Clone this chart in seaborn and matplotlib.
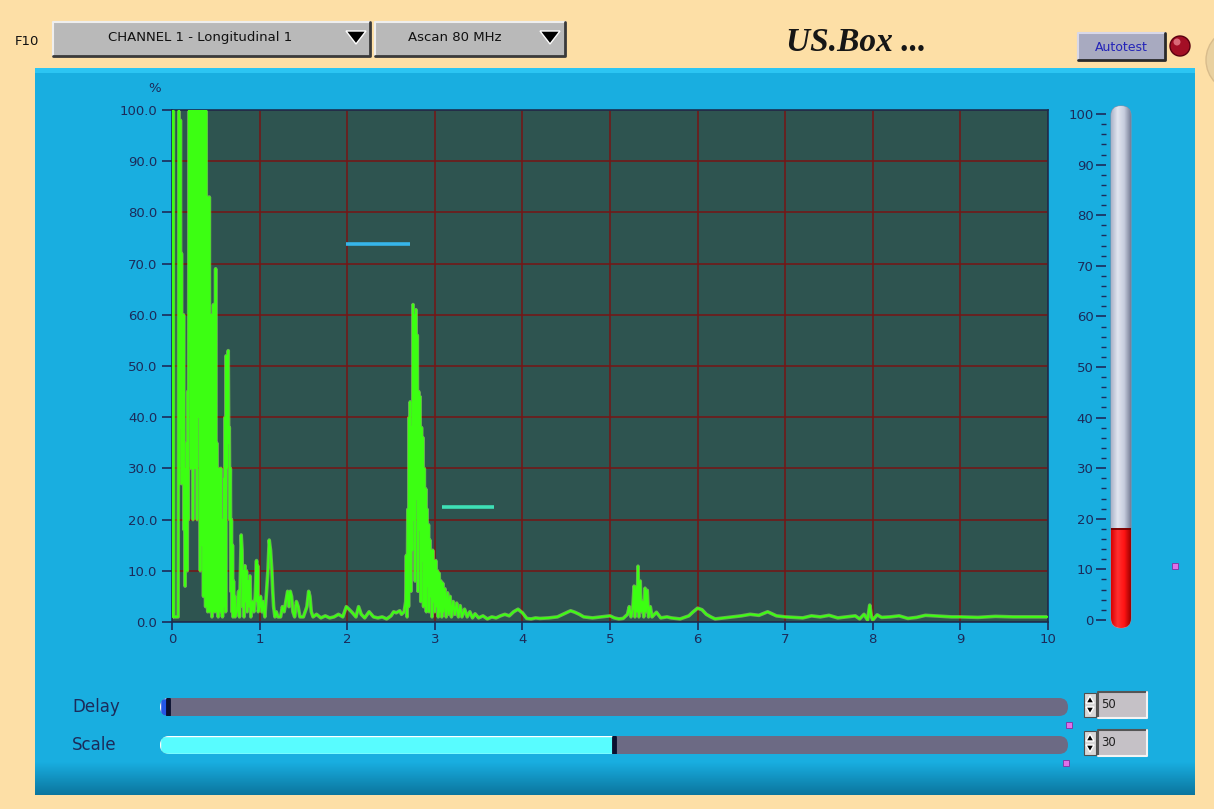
import numpy as np
import matplotlib
matplotlib.use("Agg")
import matplotlib.pyplot as plt
from matplotlib.patches import FancyBboxPatch, Rectangle, Circle, Polygon
from matplotlib.colors import LinearSegmentedColormap
import seaborn as sns

sns.set_theme(style="ticks")
plt.rcParams['font.family'] = ['DejaVu Sans']

# ---- A-scan trace (time in us, amplitude in %) ----
time_us = [
    0.000, 0.010, 0.015, 0.020, 0.070, 0.078, 0.084, 0.090, 0.096, 0.102,
    0.108, 0.114, 0.120, 0.126, 0.132, 0.138, 0.144, 0.150, 0.156, 0.162,
    0.168, 0.174, 0.180, 0.186, 0.192, 0.198, 0.204, 0.210, 0.216, 0.222,
    0.228, 0.234, 0.240, 0.246, 0.252, 0.258, 0.264, 0.270, 0.276, 0.282,
    0.288, 0.294, 0.300, 0.306, 0.312, 0.318, 0.324, 0.330, 0.336, 0.342,
    0.348, 0.354, 0.360, 0.366, 0.372, 0.378, 0.384, 0.390, 0.396, 0.402,
    0.408, 0.414, 0.420, 0.426, 0.432, 0.438, 0.444, 0.450, 0.456, 0.462,
    0.468, 0.474, 0.480, 0.486, 0.492, 0.498, 0.504, 0.510, 0.516, 0.522,
    0.528, 0.534, 0.540, 0.546, 0.552, 0.558, 0.564, 0.570, 0.576, 0.582,
    0.588, 0.594, 0.600, 0.606, 0.612, 0.618, 0.624, 0.630, 0.636, 0.642,
    0.648, 0.654, 0.660, 0.666, 0.672, 0.678, 0.684, 0.690, 0.696, 0.702,
    0.708, 0.714, 0.720, 0.740, 0.760, 0.770, 0.790, 0.800, 0.806, 0.815,
    0.822, 0.832, 0.840, 0.850, 0.858, 0.870, 0.880, 0.890, 0.900, 0.920,
    0.935, 0.950, 0.965, 0.972, 0.978, 0.985, 1.000, 1.010, 1.025, 1.040,
    1.060, 1.080, 1.095, 1.110, 1.125, 1.140, 1.150, 1.160, 1.175, 1.190,
    1.210, 1.240, 1.260, 1.280, 1.300, 1.320, 1.335, 1.350, 1.365, 1.380,
    1.400, 1.420, 1.440, 1.460, 1.500, 1.540, 1.560, 1.575, 1.590, 1.610,
    1.650, 1.700, 1.750, 1.800, 1.850, 1.900, 1.950, 1.990, 2.020, 2.060,
    2.100, 2.130, 2.160, 2.200, 2.250, 2.300, 2.350, 2.400, 2.450, 2.500,
    2.530, 2.560, 2.600, 2.620, 2.650, 2.668, 2.676, 2.684, 2.692, 2.700,
    2.708, 2.714, 2.720, 2.728, 2.736, 2.744, 2.752, 2.760, 2.768, 2.776,
    2.784, 2.792, 2.800, 2.808, 2.816, 2.824, 2.832, 2.840, 2.848, 2.856,
    2.864, 2.872, 2.880, 2.888, 2.896, 2.904, 2.912, 2.920, 2.928, 2.936,
    2.944, 2.952, 2.960, 2.968, 2.976, 2.984, 2.992, 3.000, 3.010, 3.020,
    3.030, 3.040, 3.050, 3.060, 3.070, 3.080, 3.090, 3.100, 3.115, 3.130,
    3.145, 3.160, 3.175, 3.190, 3.210, 3.230, 3.250, 3.270, 3.290, 3.310,
    3.340, 3.370, 3.400, 3.430, 3.460, 3.500, 3.550, 3.600, 3.650, 3.700,
    3.750, 3.800, 3.850, 3.900, 3.950, 4.000, 4.050, 4.100, 4.150, 4.200,
    4.300, 4.400, 4.500, 4.550, 4.600, 4.650, 4.700, 4.800, 4.900, 5.000,
    5.050, 5.100, 5.150, 5.200, 5.220, 5.240, 5.260, 5.275, 5.285, 5.300,
    5.310, 5.320, 5.330, 5.345, 5.355, 5.370, 5.385, 5.400, 5.410, 5.425,
    5.440, 5.460, 5.480, 5.530, 5.580, 5.650, 5.700, 5.800, 5.900, 5.950,
    6.000, 6.050, 6.100, 6.150, 6.200, 6.300, 6.400, 6.500, 6.600, 6.700,
    6.800, 6.850, 6.900, 7.000, 7.100, 7.200, 7.300, 7.400, 7.500, 7.600,
    7.700, 7.800, 7.850, 7.900, 7.940, 7.965, 7.985, 8.000, 8.050, 8.100,
    8.200, 8.300, 8.400, 8.500, 8.600, 8.700, 8.800, 8.900, 9.000, 9.200,
    9.400, 9.600, 9.800, 10.000,
]
amplitude = [
    1, 1, 100, 1, 1, 100, 27, 65, 98, 38,
    72, 27, 40, 28, 60, 18, 30, 7, 25, 15,
    35, 10, 45, 20, 71, 100, 55, 100, 30, 100,
    71, 100, 20, 100, 55, 100, 30, 100, 48, 100,
    20, 100, 52, 100, 40, 100, 10, 100, 45, 100,
    15, 100, 5, 100, 40, 100, 3, 100, 10, 83,
    2, 66, 20, 83, 2, 42, 5, 60, 1, 30,
    18, 62, 2, 40, 10, 69, 2, 35, 16, 25,
    1, 30, 12, 28, 2, 30, 4, 20, 1, 12,
    3, 28, 8, 40, 2, 52, 30, 51, 48, 53,
    35, 38, 20, 30, 6, 20, 2, 15, 1, 8,
    2, 5, 1, 2, 6, 1, 17, 14, 3, 10,
    1, 11, 4, 10, 2, 8, 3, 9, 1, 4,
    2, 5, 12, 4, 11, 2, 3, 5, 2, 4,
    1, 6, 10, 16, 14, 10, 6, 3, 1, 2,
    1, 1, 3, 2, 4, 6, 3, 6, 5, 2,
    1, 4, 3, 1, 1, 3, 6, 5, 2, 1,
    1.5, 0.8, 1.2, 0.8, 1, 1.5, 1, 3, 2.5, 1.8,
    1, 3, 1.5, 0.8, 2, 1, 0.8, 1, 0.6, 1.2,
    2, 1.8, 2.2, 1.5, 2, 4, 13, 1, 22, 3,
    40, 12, 43, 6, 38, 14, 62, 20, 60, 8,
    61, 24, 56, 6, 45, 18, 44, 4, 38, 12,
    36, 3, 30, 10, 26, 2, 22, 7, 19, 2,
    16, 5, 14, 1, 14, 4, 12, 2, 12, 3,
    10, 1, 9.5, 2, 8, 1, 7.6, 2, 6.5, 1,
    5.7, 1.5, 5, 1, 4, 1.5, 3.7, 1, 3.2, 1,
    2.5, 1, 2, 0.8, 1.6, 0.8, 1.2, 0.6, 1, 0.8,
    1.2, 1.5, 1.2, 2, 2.5, 1.8, 0.7, 0.6, 0.8, 0.7,
    0.8, 1, 1.8, 2.2, 1.9, 1.5, 1, 0.8, 1, 1.2,
    0.8, 0.6, 0.7, 1.5, 3, 1, 2.6, 7, 1, 6.9,
    2, 10.9, 1, 8, 2, 4, 1, 6.6, 2, 6.2,
    1, 3, 1, 1.9, 0.8, 1, 0.8, 0.6, 1.2, 2,
    2.7, 2.4, 1.5, 1, 0.6, 0.8, 1, 1.2, 1.5, 1.3,
    2, 1.6, 1.2, 1, 0.9, 0.8, 1.2, 1, 1.3, 0.8,
    1, 1.2, 0.6, 1.5, 0.4, 3.3, 1, 0.4, 1.4, 0.9,
    1, 1.2, 0.7, 0.9, 1.3, 1.2, 1.1, 1, 1, 0.9,
    1.1, 1, 1, 1,
]
assert len(time_us) == len(amplitude)

# gates
gate_start = [1.99, 3.08]
gate_end = [2.72, 3.68]
gate_level = [73.8, 22.5]
gate_colors = ['#36b6ea', '#3ee0b6']

x_ticks = list(range(0, 11))
y_ticks = [0, 10, 20, 30, 40, 50, 60, 70, 80, 90, 100]

# bar meter on the right
meter_ticks = [0, 10, 20, 30, 40, 50, 60, 70, 80, 90, 100]
meter_level = 18

# sliders and numeric controls
slider_names = ['Delay', 'Scale']
slider_pos = [0.0, 0.5]
slider_fill_colors = ['#2456e6', '#58fcff']
slider_values = ['50', '30']

channel_label = 'CHANNEL 1 - Longitudinal 1'
mode_label = 'Ascan 80 MHz'
title_text = 'US.Box ...'

W, H = 1214, 809
NAVY = '#1c2b5a'

fig = plt.figure(figsize=(W / 100, H / 100), dpi=100)
fig.patch.set_facecolor('#fddfa6')

# full-figure overlay in pixel coords for the panel decorations
ui = fig.add_axes([0, 0, 1, 1])
ui.axis('off')


def box(x0, y0, x1, y1):
    return fig.add_axes([x0 / W, 1 - y1 / H, (x1 - x0) / W, (y1 - y0) / H])


def gradient(axis, extent, colors, clip=None, vertical=False, z=1):
    cmap = LinearSegmentedColormap.from_list('g', colors)
    arr = np.linspace(0, 1, 256)
    arr = arr.reshape(-1, 1) if vertical else arr.reshape(1, -1)
    im = axis.imshow(arr, cmap=cmap, extent=extent, aspect='auto', origin='upper',
                     zorder=z, interpolation='bilinear')
    if clip is not None:
        im.set_clip_path(clip)
    return im


def raised(x0, y0, x1, y1, face, light='#eeeeee', dark='#3a3a3a', z=3):
    ui.add_patch(Rectangle((x0, y0), x1 - x0, y1 - y0, fc=face, ec='none', zorder=z))
    ui.plot([x0, x0, x1], [y1, y0, y0], color=light, lw=1.5, zorder=z + 0.1)
    ui.plot([x0, x1, x1], [y1, y1, y0], color=dark, lw=2, zorder=z + 0.1)


# blue panel
ui.add_patch(Rectangle((35, 68), 1160, 727, fc='#19aee0', ec='none', zorder=1))
ui.add_patch(Rectangle((35, 68), 1160, 5, fc='#2cc5f3', ec='none', zorder=1.6))
gradient(ui, (35, 1195, 795, 762), ['#19aee0', '#0b759e'], vertical=True, z=1.5)

# knob peeking at the right edge
ui.add_patch(Circle((1238, 60), 32, fc='#e9d1a0', ec='#d8bc8c', lw=1, zorder=0.5))

# header
ui.text(15, 41, 'F10', fontsize=9.5, va='center', color='#111111')
raised(53, 22, 370, 56, '#b9b9b9')
ui.text(200, 37, channel_label, ha='center', va='center', fontsize=9.5, color='#111111', zorder=4)
ui.add_patch(Polygon([(346, 31), (366, 31), (356, 44)], fc='black', zorder=4))
raised(375, 22, 565, 56, '#b9b9b9')
ui.text(455, 37, mode_label, ha='center', va='center', fontsize=9.5, color='#111111', zorder=4)
ui.add_patch(Polygon([(540, 31), (560, 31), (550, 44)], fc='black', zorder=4))

ui.text(856, 42, title_text, family=['Liberation Serif', 'DejaVu Serif'], weight='bold',
        style='italic', fontsize=24, ha='center', va='center', color='#161616')

raised(1078, 33, 1165, 60, '#a8aac0', light='#d8d8e8', dark='#2a2a2a')
ui.text(1121, 47, 'Autotest', ha='center', va='center', fontsize=9, color='#2424b8', zorder=4)
ui.add_patch(Circle((1180, 46), 10, fc='#a30f25', ec='#5a0010', lw=1, zorder=4))
ui.add_patch(Circle((1177, 42), 3.5, fc='#e8808c', ec='none', alpha=0.8, zorder=4.1))

ui.text(155, 88, '%', fontsize=9.5, color=NAVY, ha='center', va='center')

# ---- A-scan graph ----
ax = box(172, 110, 1048, 622)
ax.set_facecolor('#2e5450')
# pale halo under a bright core, like the screen rendering
sns.lineplot(x=time_us, y=amplitude, ax=ax, color='#9ef25a', lw=2.6, alpha=0.55,
             estimator=None, sort=False, zorder=2.5)
sns.lineplot(x=time_us, y=amplitude, ax=ax, color='#3cff12', lw=1.4,
             estimator=None, sort=False, zorder=3)
ax.hlines(gate_level, gate_start, gate_end, colors=gate_colors, lw=2.6, zorder=4)
ax.set_xlim(0, 10)
ax.set_ylim(0, 100)
ax.set_xticks(x_ticks)
ax.set_xticklabels([str(v) for v in x_ticks])
ax.set_yticks(y_ticks)
ax.set_yticklabels([f'{v:.1f}' for v in y_ticks])
ax.grid(True, color='#761515', lw=1.1)
ax.set_axisbelow(True)
ax.tick_params(colors=NAVY, labelcolor=NAVY, labelsize=9.5, length=7, width=1.2)
ax.tick_params(axis='x', length=6, pad=2)
for s in ax.spines.values():
    s.set_color('#183050')
    s.set_linewidth(1.2)
ax.set_xlabel('')
ax.set_ylabel('')

# ---- level meter ----
tube = FancyBboxPatch((1111, 106), 20, 522, boxstyle='round,pad=0,rounding_size=10',
                      fc='#c8cfe0', ec='#8890a8', lw=0.8, zorder=2)
ui.add_patch(tube)
gradient(ui, (1111, 1131, 628, 106), ['#aab2c8', '#e2e6f0', '#c6ccdd', '#767d96'], clip=tube, z=2.1)

th = box(1106, 106, 1131, 628)
th.patch.set_alpha(0)
gradient(th, (5, 25, -1.6, meter_level), ['#d80000', '#ff3030', '#ff1414', '#9a0000'], clip=tube, z=2)
top_line = th.hlines(meter_level, 5, 25, color='#6a0000', lw=1.2, zorder=3)
top_line.set_clip_path(tube)
th.set_xlim(0, 25)
th.set_ylim(-1.6, 101.6)
for s in th.spines.values():
    s.set_visible(False)
th.set_xticks([])
th.set_yticks(meter_ticks)
th.set_yticklabels([str(v) for v in meter_ticks])
th.set_yticks(list(range(0, 101, 2)), minor=True)
th.tick_params(axis='y', which='major', length=7, width=1.2, color=NAVY,
               labelcolor=NAVY, labelsize=9.5, pad=2)
th.tick_params(axis='y', which='minor', length=3.5, width=1, color=NAVY)

ui.add_patch(Rectangle((1172, 563), 6, 6, fc='#e070e8', ec='#8030a0', lw=0.6, zorder=3))

# ---- sliders ----
slider_y = [707, 745]
for i, name in enumerate(slider_names):
    yc = slider_y[i]
    track = FancyBboxPatch((160, yc - 9), 908, 18, boxstyle='round,pad=0,rounding_size=9',
                           fc='#6c6a84', ec='none', zorder=2)
    ui.add_patch(track)
    sl = box(160, yc - 9, 1068, yc + 9)
    sl.axis('off')
    bars = sl.barh(0, slider_pos[i] + 0.009, left=-0.009, height=1,
                   color=slider_fill_colors[i], zorder=1)
    for b in bars:
        b.set_clip_path(track)
    sl.axvline(slider_pos[i], ymin=0.05, ymax=0.95, color='#0b1030', lw=3.5, zorder=2)
    sl.set_xlim(-0.009, 1.009)
    sl.set_ylim(-0.5, 0.5)
    ui.text(72, yc, name, fontsize=12, color=NAVY, va='center')

    # numeric box with spinner
    by = yc - 2
    ui.add_patch(Rectangle((1098, by - 13), 49, 26, fc='#c5c1c6', ec='none', zorder=3))
    ui.plot([1098, 1098, 1147], [by + 13, by - 13, by - 13], color='#555555', lw=1.5, zorder=3.1)
    ui.plot([1098, 1147, 1147], [by + 13, by + 13, by - 13], color='#f4f4f4', lw=1.5, zorder=3.1)
    ui.text(1101, by, slider_values[i], fontsize=8.5, va='center', color='#202020', zorder=4)
    ui.add_patch(Rectangle((1084, by - 12), 12, 24, fc='#d8d8d8', ec='#505050', lw=0.8, zorder=3))
    ui.add_patch(Polygon([(1086, by - 2), (1094, by - 2), (1090, by - 9)], fc='black', zorder=4))
    ui.add_patch(Polygon([(1086, by + 2), (1094, by + 2), (1090, by + 9)], fc='black', zorder=4))
    ui.add_patch(Rectangle((1066 - i * 3, yc + 15), 6, 6, fc='#e070e8', ec='#8030a0', lw=0.6, zorder=3))

ui.set_xlim(0, W)
ui.set_ylim(H, 0)
ui.set_aspect('auto')

fig.savefig('out.png', dpi=100, facecolor=fig.get_facecolor())
